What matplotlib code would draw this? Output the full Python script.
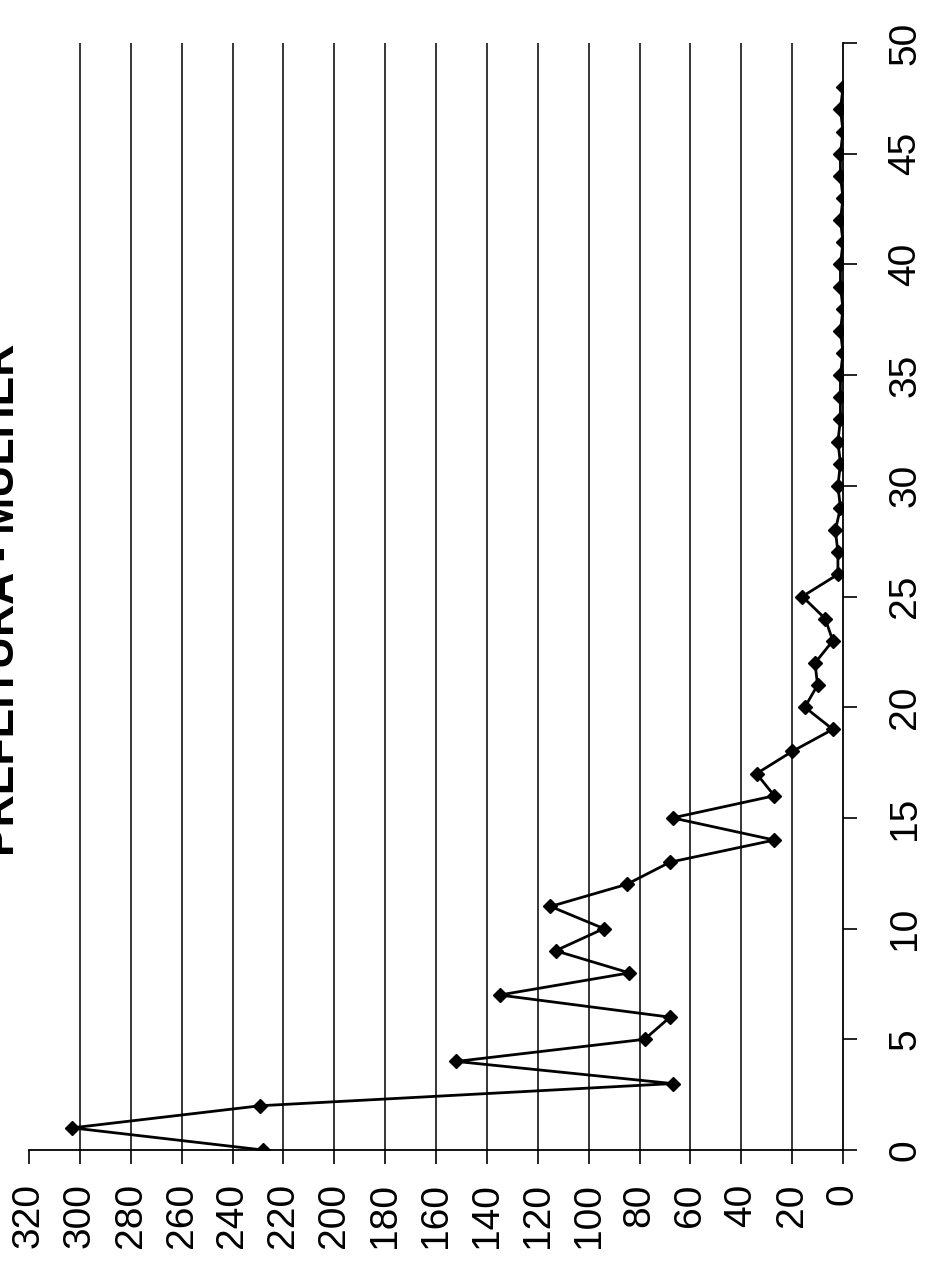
import numpy as np
import matplotlib
matplotlib.use('Agg')
import matplotlib.pyplot as plt

plt.rcParams['font.family'] = ['Liberation Sans', 'DejaVu Sans']

title = 'PREFEITURA - MULHER'
categories = list(range(49))
values = [228, 303, 229, 67, 152, 78, 68, 135, 84, 113,
          94, 115, 85, 68, 27, 67, 27, 34, 20, 4,
          15, 10, 11, 4, 7, 16, 2, 2, 3, 1,
          2, 1, 2, 1, 1, 1, 0, 1, 0, 1,
          1, 0, 1, 0, 1, 1, 0, 1, 0]
value_ticks = list(range(0, 321, 20))
value_labels = [str(v) for v in value_ticks]
cat_ticks = list(range(0, 51, 5))
cat_labels = [str(c) for c in cat_ticks]

fig = plt.figure(figsize=(9.33, 12.62), dpi=100)
ax = fig.add_axes([29 / 933, 1 - 1150 / 1262, (843 - 29) / 933, (1150 - 43) / 1262])

# gridlines (none at the outer 320 and on the 0 axis)
for v in value_ticks[1:-1]:
    ax.axvline(v, color='black', lw=1.1, zorder=1)

ax.plot(values, categories, color='black', lw=2.0, marker='D', ms=7, zorder=3)

ax.set_xlim(320, 0)
ax.set_ylim(0, 50)

ax.set_xticks(value_ticks)
ax.set_xticklabels(value_labels, rotation=90)
ax.yaxis.tick_right()
ax.set_yticks(cat_ticks)
ax.set_yticklabels(cat_labels, rotation=90, va='center')

for s in ['top', 'left']:
    ax.spines[s].set_visible(False)
for s in ['bottom', 'right']:
    ax.spines[s].set_linewidth(1.3)

ax.tick_params(axis='x', direction='out', length=10, width=1.2, pad=14, labelsize=28)
ax.tick_params(axis='y', direction='out', length=10, width=1.2, pad=22, labelsize=28)

fig.text(14 / 933, 1 - 600 / 1262, title, rotation=90, rotation_mode='anchor',
         ha='center', va='baseline', fontsize=32, fontweight='bold')

fig.savefig('out.png', dpi=100)
